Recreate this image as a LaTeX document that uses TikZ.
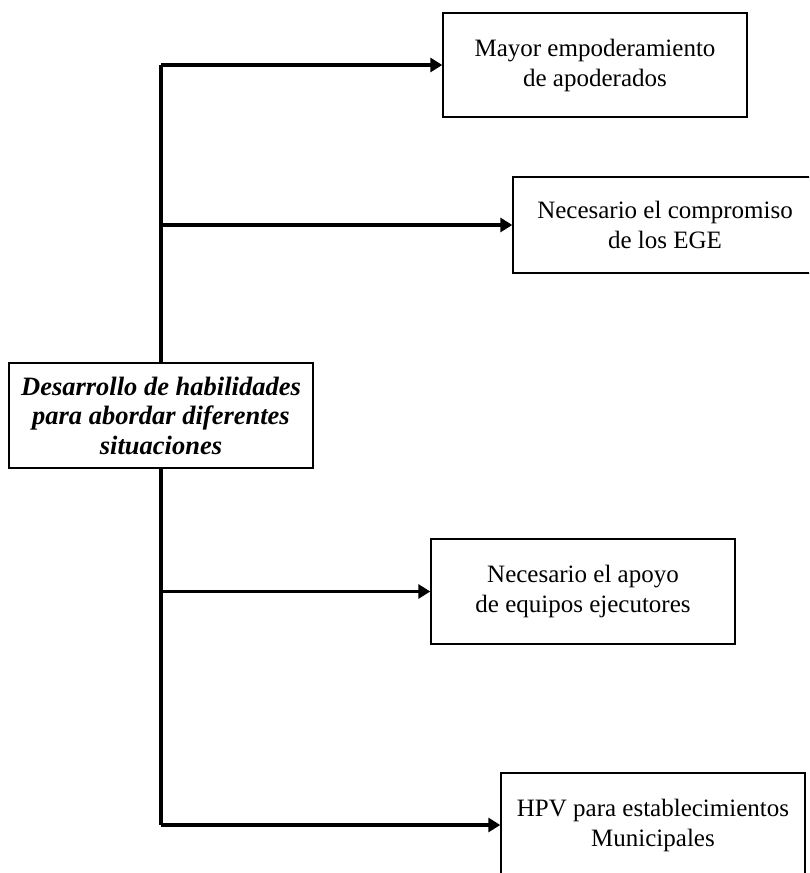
\documentclass[tikz,border=0pt]{standalone}
\usepackage{fontspec}
\setmainfont{Liberation Serif}
\usetikzlibrary{arrows.meta}
\begin{document}
\begin{tikzpicture}[x=1pt,y=-1pt,
  box/.style={draw=black, line width=1.4pt, minimum width=304pt, align=center, inner sep=0pt,
    font=\fontsize{25}{30}\selectfont},
  mainbox/.style={box, font=\fontsize{26.5}{29.5}\selectfont\bfseries\itshape},
  conn/.style={line width=3.4pt, -{Triangle[length=12pt,width=14pt]}},
  trunk/.style={line width=3.4pt}]
\clip (0,0) rectangle (809,873);
\fill[white] (0,0) rectangle (809,873);
\node[mainbox, minimum height=105pt] (main) at (161,415.5) {Desarrollo de habilidades\\para abordar diferentes\\situaciones};
\node[box, minimum height=104pt] (b1) at (595,65) {Mayor empoderamiento\\de apoderados};
\node[box, minimum height=96pt] (b2) at (665,225) {Necesario el compromiso\\de los EGE};
\node[box, minimum height=105pt] (b3) at (583,591.5) {Necesario el apoyo\\de equipos ejecutores};
\node[box, minimum height=104pt] (b4) at (653,825) {HPV para establecimientos\\Municipales};
\draw[trunk] (main.north) -- (main.north |- b1.west);
\draw[trunk] (main.south) -- (main.south |- b4.west);
\draw[conn] (main.north |- b1.west) -- (b1.west);
\draw[conn] (main.north |- b2.west) -- (b2.west);
\draw[conn] (main.south |- b3.west) -- (b3.west);
\draw[conn] (main.south |- b4.west) -- (b4.west);
\end{tikzpicture}
\end{document}
